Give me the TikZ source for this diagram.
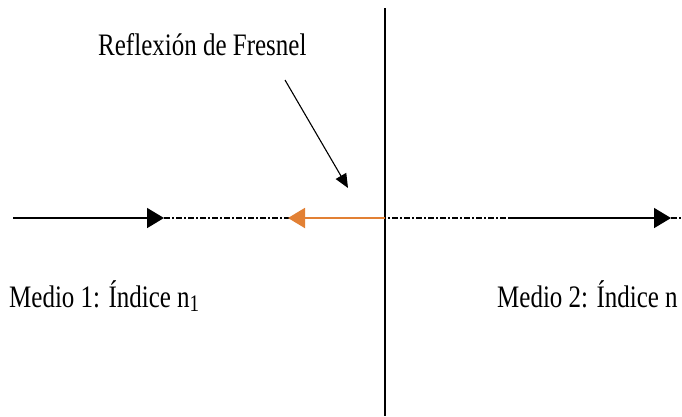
\documentclass[tikz,border=0pt]{standalone}
\usepackage{fontspec}
\setmainfont{Liberation Serif}
\usetikzlibrary{arrows.meta}
\definecolor{refl}{RGB}{226,128,52}
\begin{document}
\begin{tikzpicture}[x=1pt,y=-1pt,
  ray/.style={line width=1.6pt,black},
  dashdot/.style={line width=1.5pt,black,dash pattern=on 6pt off 2pt on 2pt off 2pt},
  tip/.style={-{Triangle[length=17pt,width=20pt]}},
  lbl/.style={font=\fontsize{25}{28}\selectfont,anchor=base west,inner sep=0pt,yscale=1.25}]
\useasboundingbox (0,0) rectangle (682,416);
\fill[white] (0,0) rectangle (682,416);
% interface
\coordinate (vtop) at (385,8);
\coordinate (vbot) at (385,416);
\draw[line width=1.4pt] (vtop) -- (vbot);
% horizontal ray
\coordinate (a0) at (13,218);
\coordinate (a1) at (164,218);
\coordinate (b0) at (385,218);
\coordinate (b1) at (288,218);
\coordinate (c0) at (510,218);
\coordinate (c1) at (671,218);
\coordinate (c2) at (682,218);
\draw[dashdot] (a1) -- (c0);
\draw[ray,tip] (a0) -- (a1);
\draw[ray,refl,line width=2pt,-{Triangle[length=17pt,width=20pt]}] (b0) -- (b1);
\draw[ray,tip] (c0) -- (c1);
\draw[dashdot] (c1) -- (c2);
% labels
\node[lbl] (fres) at (98,55) {Reflexión de Fresnel};
\node[lbl] (m1) at (9,307) {Medio 1: Índice n\textsubscript{\fontsize{19}{20}\selectfont 1}};
\node[lbl] (m2) at (497,307) {Medio 2: Índice n};
% annotation arrow
\coordinate (p0) at (285,80);
\coordinate (p1) at (348,188);
\draw[line width=1.1pt,-{Triangle[length=14pt,width=12pt]}] (p0) -- (p1);
\end{tikzpicture}
\end{document}
